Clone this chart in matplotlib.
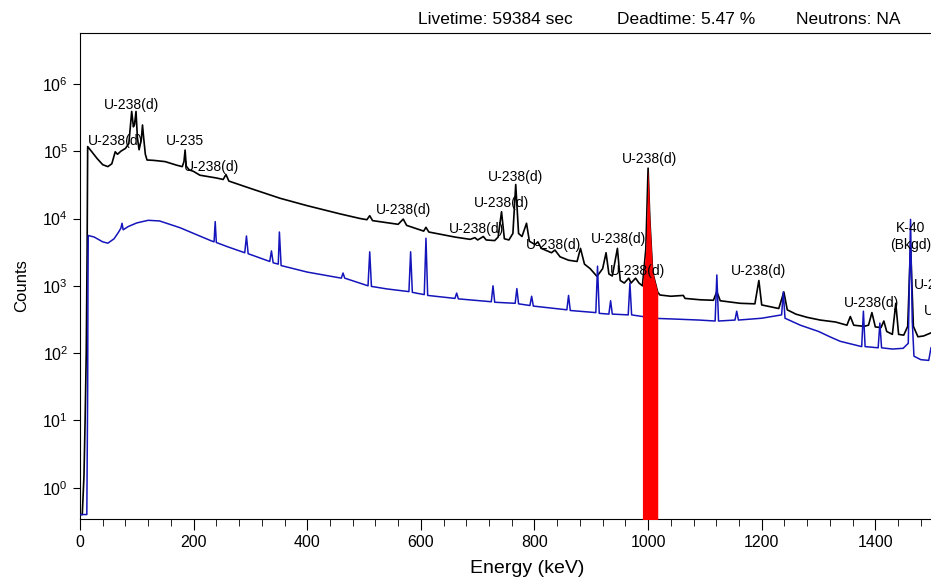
import numpy as np
import matplotlib
matplotlib.use("Agg")
import matplotlib.pyplot as plt
from matplotlib.ticker import MultipleLocator, LogLocator, NullLocator

plt.rcParams['font.family'] = ['Liberation Sans', 'DejaVu Sans']
plt.rcParams['mathtext.fontset'] = 'custom'
plt.rcParams['mathtext.rm'] = 'Liberation Sans'

# sample spectrum (black)
e_sample = [0, 4, 7, 9, 11, 12.5, 13.5, 20, 30, 40, 49, 56, 60, 62, 66, 72, 80, 86, 89, 91,
            94, 96, 98.6, 101, 104, 108, 110, 112, 115, 118, 130, 150, 170, 180, 183, 185,
            187, 192, 200, 211, 240, 252, 257, 262, 300, 352, 400, 458, 493, 505, 510, 515,
            560, 569, 575, 605, 609, 614, 660, 687, 695, 700, 710, 715, 730, 736, 742, 747,
            755, 762, 767, 772, 778, 786, 791, 801, 806, 812, 819, 830, 836, 845, 860, 875,
            881, 888, 898, 910, 920, 926, 931, 937, 946, 951, 958, 966, 970, 978, 984, 990,
            996, 1000, 1003, 1008, 1017, 1021, 1040, 1062, 1065, 1092, 1115, 1121, 1127, 1162,
            1188, 1195, 1200, 1230, 1239, 1245, 1260, 1280, 1303, 1330, 1350, 1356, 1362, 1380,
            1388, 1394, 1400, 1410, 1415, 1420, 1430, 1436, 1441, 1450, 1457, 1462, 1467, 1475,
            1485, 1498]
c_sample = [0.4, 0.4, 1.5, 10, 100, 3000, 1.17e5, 1.0e5, 7.8e4, 6.3e4, 5.9e4, 6.5e4, 8.5e4,
            9.8e4, 9.0e4, 1.0e5, 1.1e5, 1.3e5, 2.5e5, 3.9e5, 2.3e5, 2.5e5, 3.9e5, 1.6e5, 1.05e5,
            1.5e5, 2.45e5, 1.6e5, 9e4, 7.4e4, 7.3e4, 7.0e4, 6.2e4, 5.9e4, 7e4, 1.04e5, 6e4,
            5.3e4, 5.0e4, 4.4e4, 4.0e4, 3.8e4, 4.5e4, 3.6e4, 2.8e4, 2.0e4, 1.55e4, 1.17e4,
            1.0e4, 9.6e3, 1.1e4, 9.3e3, 8.2e3, 9.8e3, 7.9e3, 6.5e3, 7.4e3, 6.3e3, 5.3e3, 4.9e3,
            5.2e3, 4.8e3, 5.4e3, 4.8e3, 4.7e3, 5.3e3, 1.26e4, 5.0e3, 4.8e3, 6e3, 3.2e4, 6.0e3,
            5.4e3, 8.5e3, 4.6e3, 4.1e3, 4.5e3, 3.6e3, 3.4e3, 3.1e3, 3.4e3, 2.7e3, 2.4e3, 2.3e3,
            3.6e3, 2.1e3, 1.8e3, 1.38e3, 1.8e3, 3.1e3, 1.5e3, 1.4e3, 3.6e3, 1.2e3, 1.1e3,
            1.3e3, 1.1e3, 1.3e3, 1.1e3, 1.0e3, 3.5e3, 5.6e4, 1.0e4, 1.6e3, 800, 730, 700, 720,
            650, 620, 610, 820, 600, 550, 540, 1.2e3, 520, 460, 810, 440, 380, 340, 310, 290,
            260, 350, 260, 250, 260, 400, 245, 240, 300, 210, 190, 550, 190, 185, 250, 4.0e3,
            250, 175, 180, 200]

# background spectrum (blue)
e_bkg = [0, 12, 13.5, 14, 14.5, 25, 40, 49, 60, 68, 72, 74, 76, 85, 100, 120, 140, 176, 200,
         230, 236, 238, 240, 260, 290, 293, 296, 334, 337, 340, 349, 351, 354, 400, 460, 463,
         466, 507, 510, 513, 540, 579, 582, 585, 606, 609, 612, 660, 663, 666, 724, 727, 730,
         766, 769, 772, 792, 795, 798, 857, 860, 863, 908, 911, 914, 931, 934, 937, 965, 968,
         971, 1000, 1003, 1006, 1050, 1090, 1118, 1121, 1124, 1153, 1156, 1159, 1200, 1235,
         1238, 1241, 1268, 1300, 1320, 1338, 1376, 1379, 1382, 1405, 1408, 1411, 1430, 1449,
         1458, 1462, 1465, 1468, 1480, 1494, 1498]
c_bkg = [0.4, 0.4, 30, 1000, 5.6e3, 5.3e3, 4.5e3, 4.3e3, 5.0e3, 6.3e3, 7.2e3, 8.5e3, 6.8e3,
         7.6e3, 8.6e3, 9.4e3, 9.2e3, 7.3e3, 6.0e3, 4.7e3, 4.5e3, 9.0e3, 4.4e3, 3.8e3, 3.1e3,
         5.5e3, 3.0e3, 2.3e3, 3.3e3, 2.2e3, 2.1e3, 6.3e3, 2.0e3, 1.6e3, 1.3e3, 1.55e3, 1.3e3,
         1.0e3, 3.2e3, 980, 900, 820, 3.2e3, 800, 740, 5.1e3, 720, 650, 780, 640, 580, 1.0e3,
         570, 550, 910, 540, 510, 700, 500, 440, 720, 430, 400, 1.96e3, 390, 380, 600, 380,
         370, 1.1e3, 370, 340, 550, 330, 320, 310, 300, 1.45e3, 300, 310, 420, 310, 330, 370,
         810, 330, 260, 210, 175, 150, 125, 420, 125, 120, 280, 120, 115, 118, 140, 9.7e3,
         300, 90, 80, 78, 120]

# highlighted region of interest
roi = (990, 1017)

# peak labels: text, energy, counts, alignment
labels = ["U-238(d)", "U-238(d)", "U-235", "U-238(d)", "U-238(d)", "U-238(d)", "U-238(d)",
          "U-238(d)", "U-238(d)", "U-238(d)", "U-238(d)", "U-238(d)", "U-238(d)", "U-238(d)",
          "K-40\n(Bkgd)", "U-238(d)", "U-238(d)"]
lab_e = [91, 62, 185, 232, 569, 766, 742, 698, 833, 948, 981, 1002, 1194, 1394, 1462, 1467, 1485]
lab_c = [4.9e5, 1.4e5, 1.4e5, 5.75e4, 1.35e4, 4.2e4, 1.7e4, 7.1e3, 4.1e3, 4.9e3, 1.66e3,
         7.6e4, 1.66e3, 550, 5.4e3, 1.02e3, 420]
lab_ha = ["center"] * 15 + ["left", "left"]

fig = plt.figure(figsize=(9.31, 5.79), dpi=100)
ax = fig.add_axes([80 / 931, 60.3 / 579, 851 / 931, 485.7 / 579])

ax.plot(e_sample, c_sample, color="black", lw=1.2, zorder=2)
ax.plot(e_bkg, c_bkg, color="#1414bb", lw=1.1, zorder=3)

es = np.array(e_sample)
cs = np.array(c_sample)
mask = (es >= roi[0]) & (es <= roi[1])
ax.fill_between(es, 1e-3, cs, where=mask, color="red", lw=0, zorder=4)

for t, x, y, ha in zip(labels, lab_e, lab_c, lab_ha):
    ax.text(x, y, t, ha=ha, va="center", fontsize=10, zorder=5, clip_on=True)

ax.set_yscale("log")
ax.set_xlim(0, 1498)
ax.set_ylim(0.347, 5.7e6)
ax.xaxis.set_major_locator(MultipleLocator(200))
ax.xaxis.set_minor_locator(MultipleLocator(40))
ax.yaxis.set_major_locator(LogLocator(base=10, numticks=10))
ax.yaxis.set_minor_locator(NullLocator())
ax.tick_params(axis="x", which="major", direction="out", length=8, labelsize=11.5)
ax.tick_params(axis="x", which="minor", direction="out", length=5)
ax.tick_params(axis="y", direction="out", length=5, labelsize=11.5)
ax.spines["right"].set_visible(False)

ax.set_xlabel("Energy (keV)", fontsize=14)
ax.xaxis.set_label_coords(0.525, -0.085)
ax.set_ylabel("Counts", fontsize=12)
ax.yaxis.set_label_coords(-0.06, 0.48)

fig.text(418 / 931, 0.967, "Livetime: 59384 sec", fontsize=12.5, va="center")
fig.text(617 / 931, 0.967, "Deadtime: 5.47 %", fontsize=12.5, va="center")
fig.text(796 / 931, 0.967, "Neutrons: NA", fontsize=12.5, va="center")

fig.savefig("out.png", dpi=100)
